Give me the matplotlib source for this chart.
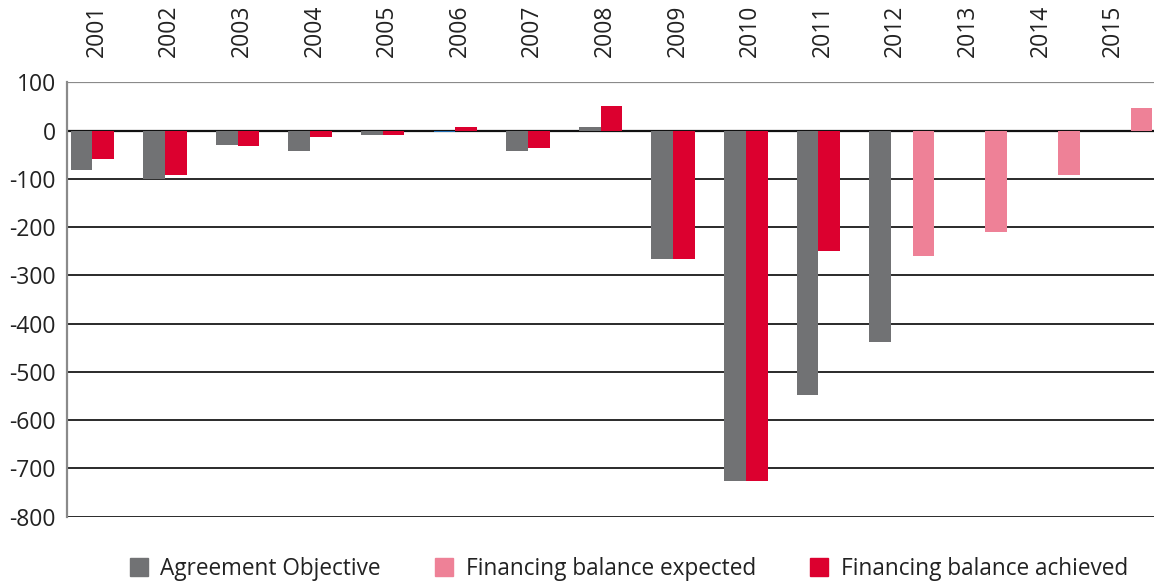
import numpy as np
import matplotlib.pyplot as plt
from matplotlib.lines import Line2D

years = ['2001', '2002', '2003', '2004', '2005', '2006', '2007', '2008',
         '2009', '2010', '2011', '2012', '2013', '2014', '2015']
objective = [-81, -100, -30, -42, -9, -2.5, -42, 8,
             -267, -727, -549, -439, np.nan, np.nan, np.nan]
achieved = [-59, -91, -31, -14, -9, 8, -35, 51,
            -267, -727, -250, np.nan, np.nan, np.nan, np.nan]
expected = [np.nan] * 11 + [-259, -209, -91, 47]
yticks = [100, 0, -100, -200, -300, -400, -500, -600, -700, -800]

gray = '#717274'
red = '#DC002F'
pink = '#EE8197'

plt.rcParams['font.family'] = ['Open Sans', 'DejaVu Sans']

fig = plt.figure(figsize=(11.54, 5.85), dpi=100)
ax = fig.add_axes([0.058, 0.117, 0.9437, 0.742])

x = np.arange(len(years))
w = 0.299
obj_colors = [gray] * len(years)
obj_colors[5] = '#1f6db4'  # the 2006 sliver shows up blue in the original
ax.bar(x - w, objective, w, color=obj_colors, zorder=3)
ax.bar(x, achieved, w, color=red, zorder=3)
ax.bar(x + w, expected, w, color=pink, zorder=3)

for v in yticks:
    if v == 100:
        ax.axhline(v, color='#8a8a8a', lw=1.6, zorder=1)
    elif v == 0:
        ax.axhline(v, color='#111111', lw=1.6, zorder=2)
    else:
        ax.axhline(v, color='#2a2a2a', lw=1.4, zorder=1)

ax.set_xlim(-0.5, len(years) - 0.5)
ax.set_ylim(-800, 100)
ax.set_yticks(yticks)
ax.set_yticklabels([str(v) for v in yticks], fontsize=16.5, color='#222222')
ax.tick_params(axis='y', length=0, pad=8)

ax.xaxis.tick_top()
ax.set_xticks(x - 0.09)
ax.set_xticklabels(years, rotation=90, fontsize=16.5, color='#222222')
ax.tick_params(axis='x', length=0, pad=18)

for s in ['right', 'bottom', 'top']:
    ax.spines[s].set_visible(False)
ax.spines['left'].set_color('#8a8a8a')
ax.spines['left'].set_linewidth(1.6)

handles = [Line2D([], [], marker='s', ls='', markersize=12.5, color=c)
           for c in [gray, pink, red]]
labels = ['Agreement Objective', 'Financing balance expected',
          'Financing balance achieved']
fig.legend(handles, labels, loc='lower center', bbox_to_anchor=(0.543, -0.028),
           ncol=3, frameon=False, fontsize=16.3, handletextpad=0.35,
           columnspacing=2.2, handlelength=1.2, labelcolor='#222222')

fig.savefig('out.png', dpi=100)
